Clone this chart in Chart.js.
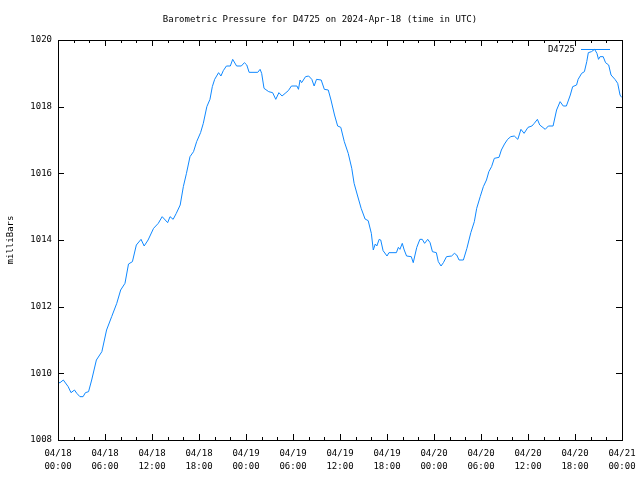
<!DOCTYPE html>
<html lang="en">
<head>
  <meta charset="UTF-8" />
  <title>Barometric Pressure</title>
  <style>
    html, body { margin: 0; padding: 0; background: #fff; }
    #wrap { width: 640px; height: 480px; }
  </style>
</head>
<body>
  <div id="wrap"><canvas id="chart" width="640" height="480"></canvas></div>

  <script src="https://cdn.jsdelivr.net/npm/chart.js"></script>
  <script>
    // hours since 2024-04-18 00:00 UTC
    const hours = [
      0.1, 0.26, 0.68, 1.3, 1.66, 2.1, 2.4, 2.8, 3.2, 3.5, 3.9, 4.3, 4.9, 5.6, 6.2, 6.85, 7.5, 8.0, 8.55, 9.0,
      9.5, 10.0, 10.6, 11.0, 11.5, 12.2, 12.8, 13.3, 14.0, 14.3, 14.7, 15.1, 15.6, 16.0, 16.4, 16.85, 17.3, 17.7, 18.2, 18.55,
      19.0, 19.4, 19.7, 20.0, 20.5, 20.8, 21.1, 21.5, 22.0, 22.3, 22.8, 23.4, 23.8, 24.1, 24.4, 25.5, 25.8, 26.0, 26.3, 26.9,
      27.4, 27.8, 28.2, 28.6, 29.1, 29.4, 29.8, 30.5, 30.7, 30.9, 31.1, 31.6, 32.0, 32.4, 32.7, 33.0, 33.6, 34.0, 34.5, 34.85,
      35.3, 35.7, 36.1, 36.55, 37.05, 37.5, 37.8, 38.25, 38.7, 39.2, 39.6, 40.0, 40.25, 40.5, 40.7, 41.0, 41.2, 41.5, 42.0, 42.25,
      43.2, 43.45, 43.65, 43.95, 44.2, 44.5, 45.1, 45.35, 45.8, 46.2, 46.5, 46.8, 47.2, 47.5, 47.8, 48.3, 48.55, 48.9, 49.2, 49.6,
      50.25, 50.6, 50.9, 51.2, 51.75, 52.2, 52.7, 53.15, 53.45, 53.9, 54.3, 54.7, 55.0, 55.35, 55.7, 56.3, 56.6, 57.0, 57.4, 57.8,
      58.25, 58.7, 59.1, 59.5, 60.0, 60.5, 60.8, 61.2, 61.5, 62.2, 62.6, 63.2, 63.65, 64.1, 64.5, 64.9, 65.4, 65.7, 66.2, 66.4,
      66.85, 67.2, 67.5, 67.7, 68.1, 68.5, 68.8, 69.0, 69.2, 69.6, 69.9, 70.3, 70.6, 71.1, 71.45, 71.75, 71.95
    ];
    const pressure = [
      1009.72, 1009.72, 1009.8, 1009.6, 1009.42, 1009.5, 1009.4, 1009.3, 1009.3, 1009.42, 1009.45, 1009.8, 1010.4, 1010.65, 1011.3, 1011.7, 1012.1, 1012.5, 1012.7, 1013.28,
      1013.35, 1013.85, 1014.02, 1013.82, 1014.0, 1014.35, 1014.5, 1014.7, 1014.52, 1014.7, 1014.62, 1014.8, 1015.05, 1015.6, 1016.0, 1016.5, 1016.65, 1016.95, 1017.22, 1017.5,
      1018.0, 1018.22, 1018.6, 1018.82, 1019.02, 1018.92, 1019.08, 1019.22, 1019.22, 1019.42, 1019.22, 1019.22, 1019.32, 1019.25, 1019.03, 1019.03, 1019.12, 1019.0, 1018.55, 1018.45,
      1018.42, 1018.22, 1018.42, 1018.32, 1018.42, 1018.48, 1018.62, 1018.62, 1018.52, 1018.8, 1018.72, 1018.9, 1018.92, 1018.82, 1018.62, 1018.82, 1018.8, 1018.52, 1018.5, 1018.2,
      1017.75, 1017.42, 1017.38, 1016.95, 1016.6, 1016.15, 1015.7, 1015.32, 1014.95, 1014.63, 1014.58, 1014.2, 1013.7, 1013.88, 1013.82, 1014.02, 1014.0, 1013.68, 1013.52, 1013.62,
      1013.62, 1013.78, 1013.72, 1013.9, 1013.7, 1013.52, 1013.5, 1013.32, 1013.78, 1014.02, 1014.02, 1013.9, 1014.02, 1013.92, 1013.65, 1013.62, 1013.35, 1013.22, 1013.32, 1013.5,
      1013.52, 1013.6, 1013.55, 1013.4, 1013.4, 1013.75, 1014.22, 1014.55, 1014.95, 1015.3, 1015.6, 1015.8, 1016.05, 1016.2, 1016.45, 1016.48, 1016.7, 1016.88, 1017.02, 1017.1,
      1017.12, 1017.02, 1017.32, 1017.2, 1017.38, 1017.42, 1017.5, 1017.62, 1017.45, 1017.32, 1017.42, 1017.42, 1017.9, 1018.15, 1018.02, 1018.02, 1018.35, 1018.6, 1018.65, 1018.82,
      1019.0, 1019.05, 1019.35, 1019.62, 1019.65, 1019.72, 1019.6, 1019.42, 1019.5, 1019.5, 1019.32, 1019.25, 1018.95, 1018.82, 1018.7, 1018.35, 1018.28
    ];
    const xTickDates = ['04/18', '04/18', '04/18', '04/18', '04/19', '04/19', '04/19', '04/19', '04/20', '04/20', '04/20', '04/20', '04/21'];
    const xTickTimes = ['00:00', '06:00', '12:00', '18:00', '00:00', '06:00', '12:00', '18:00', '00:00', '06:00', '12:00', '18:00', '00:00'];
    const yTicks = [1008, 1010, 1012, 1014, 1016, 1018, 1020];

    const seriesName = 'D4725';
    const chartTitle = 'Barometric Pressure for D4725 on 2024-Apr-18 (time in UTC)';
    const lineColor = '#0f88ff';
    const FONT = "'DejaVu Sans Mono', monospace";

    // gnuplot-ish frame: box, inward ticks on all sides, title and legend
    const framePlugin = {
      id: 'frame',
      afterDraw(chart) {
        const { ctx, chartArea: a, scales } = chart;
        const x = scales.x, y = scales.y;
        ctx.save();
        ctx.strokeStyle = '#000';
        ctx.lineWidth = 1;
        ctx.strokeRect(a.left + 0.5, a.top + 0.5, a.right - a.left, a.bottom - a.top);

        ctx.beginPath();
        for (let h = 0; h <= 72; h += 2) {
          const px = Math.round(x.getPixelForValue(h)) + 0.5;
          const len = h % 6 === 0 ? 6 : 3;
          ctx.moveTo(px, a.bottom);
          ctx.lineTo(px, a.bottom - len);
          ctx.moveTo(px, a.top);
          ctx.lineTo(px, a.top + len);
        }
        yTicks.forEach(v => {
          const py = Math.round(y.getPixelForValue(v)) + 0.5;
          ctx.moveTo(a.left, py);
          ctx.lineTo(a.left + 6, py);
          ctx.moveTo(a.right, py);
          ctx.lineTo(a.right - 6, py);
        });
        ctx.stroke();

        ctx.fillStyle = '#000';
        ctx.font = '9px ' + FONT;
        ctx.textAlign = 'center';
        ctx.textBaseline = 'middle';
        ctx.fillText(chartTitle, 320, 20);

        // legend
        ctx.textAlign = 'right';
        ctx.fillText(seriesName, 575, 50);
        ctx.strokeStyle = lineColor;
        ctx.beginPath();
        ctx.moveTo(581, 49.5);
        ctx.lineTo(610, 49.5);
        ctx.stroke();
        ctx.restore();
      }
    };

    new Chart(document.getElementById('chart').getContext('2d'), {
      type: 'line',
      data: {
        datasets: [{
          label: seriesName,
          data: hours.map((h, i) => ({ x: h, y: pressure[i] })),
          borderColor: lineColor,
          borderWidth: 1,
          pointRadius: 0,
          tension: 0,
          fill: false
        }]
      },
      options: {
        responsive: false,
        animation: false,
        layout: { padding: { top: 40, right: 18, left: 0, bottom: 0 } },
        plugins: {
          legend: { display: false },
          title: { display: false },
          tooltip: { enabled: false }
        },
        scales: {
          x: {
            type: 'linear',
            min: 0,
            max: 72,
            afterFit: s => { s.height = 40; s.paddingLeft = 0; s.paddingRight = 0; },
            afterBuildTicks: s => { s.ticks = xTickDates.map((d, i) => ({ value: i * 6 })); },
            grid: { display: false, drawTicks: false },
            border: { display: false },
            ticks: {
              autoSkip: false,
              maxRotation: 0,
              padding: 7,
              color: '#000',
              font: { family: FONT, size: 9, lineHeight: 1.45 },
              callback: v => [xTickDates[v / 6], xTickTimes[v / 6]]
            }
          },
          y: {
            min: 1008,
            max: 1020,
            afterFit: s => { s.width = 58; s.paddingTop = 0; s.paddingBottom = 0; },
            afterBuildTicks: s => { s.ticks = yTicks.map(v => ({ value: v })); },
            grid: { display: false, drawTicks: false },
            border: { display: false },
            title: {
              display: true,
              text: 'milliBars',
              color: '#000',
              padding: 5,
              font: { family: FONT, size: 9 }
            },
            ticks: {
              padding: 6,
              color: '#000',
              font: { family: FONT, size: 9 },
              callback: v => String(v)
            }
          }
        }
      },
      plugins: [framePlugin]
    });
  </script>
</body>
</html>
